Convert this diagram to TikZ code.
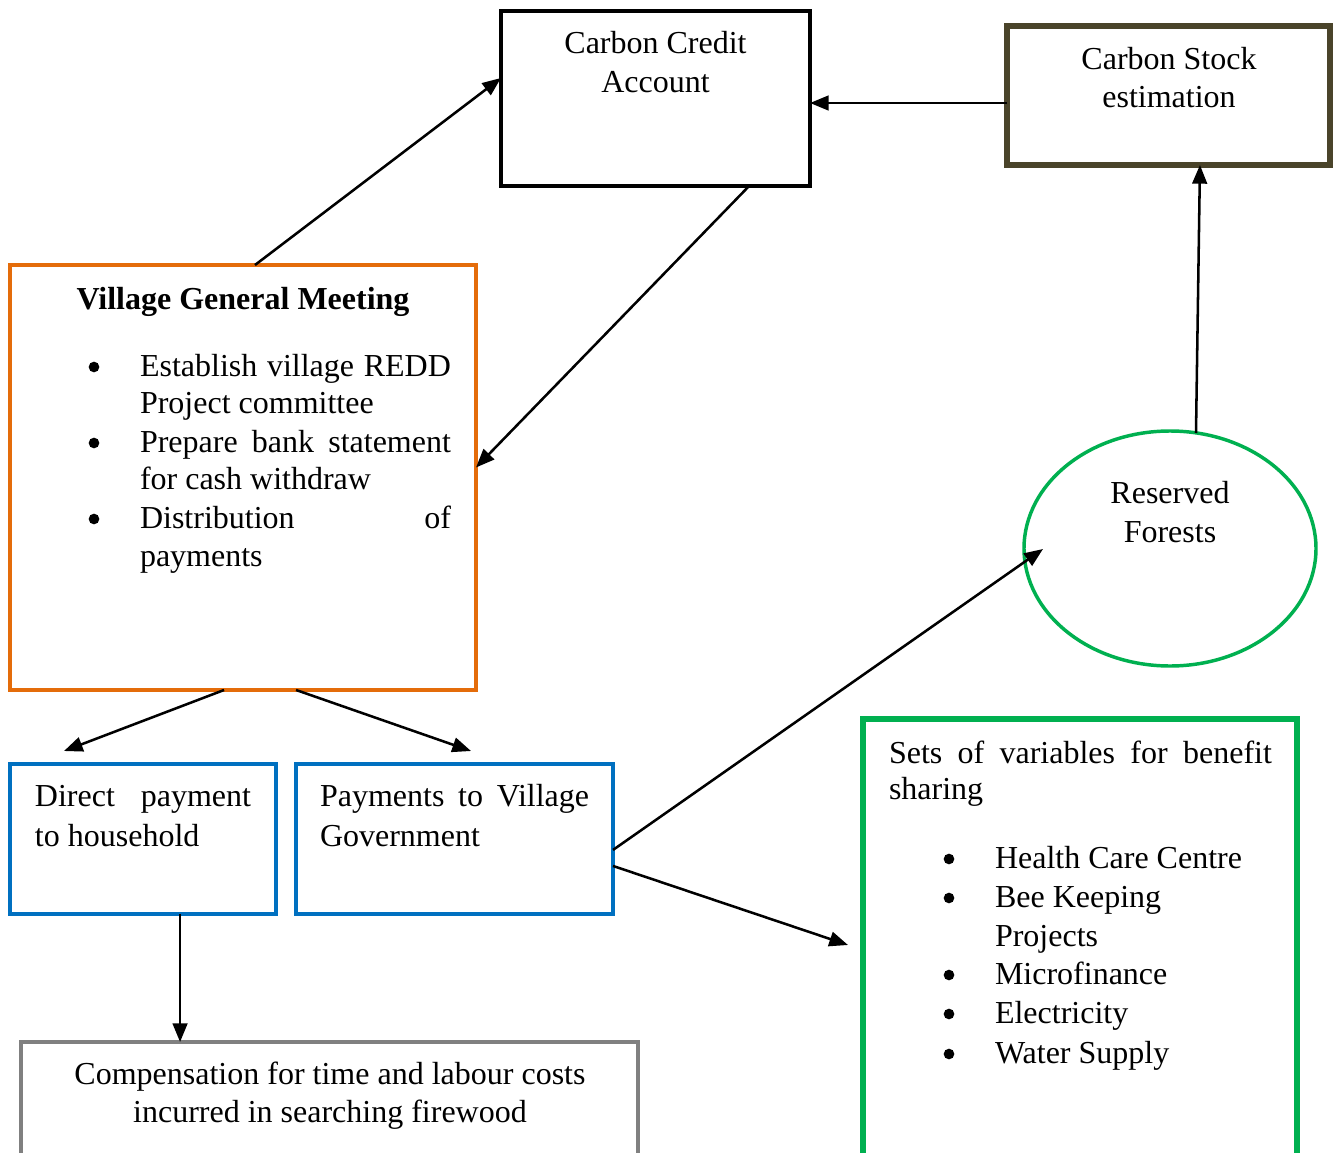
\documentclass[tikz,border=0pt]{standalone}
\usepackage{fontspec}
\setmainfont{Liberation Serif}
\usetikzlibrary{arrows.meta,shapes.geometric,fit}
\definecolor{vgmorange}{RGB}{228,108,10}
\definecolor{payblue}{RGB}{0,112,192}
\definecolor{bgreen}{RGB}{0,176,80}
\definecolor{olive}{RGB}{74,68,42}
\definecolor{cgray}{RGB}{128,128,128}
\begin{document}
\begin{tikzpicture}[x=0.375pt,y=-0.375pt,
  box/.style={draw, inner sep=0pt, outer sep=0pt},
  conn/.style={draw=black, line width=0.95pt, -{Triangle[length=7pt,width=5.5pt]}},
  txt/.style={inner sep=0pt, outer sep=0pt, font=\fontsize{12}{14.4}\selectfont},
  lt/.style={txt, anchor=base west},
  ct/.style={txt, anchor=base},
  bul/.style={circle, fill=black, inner sep=0pt, outer sep=0pt, minimum size=4pt},
]
\clip (0,0) rectangle (1333,1153);
\fill[white] (0,0) rectangle (1333,1153);

% boxes
\node[box, line width=1.5pt, fit={(501,11) (810,186)}] (cca) {};
\node[box, draw=olive, line width=1.9pt, fit={(1007,26) (1330,165)}] (csk) {};
\node[box, draw=vgmorange, line width=1.4pt, fit={(10,265) (476,690)}] (vgm) {};
\node[box, draw=payblue, line width=1.4pt, fit={(10,764) (276,914)}] (dph) {};
\node[box, draw=payblue, line width=1.4pt, fit={(296,764) (613,914)}] (pvg) {};
\node[box, draw=cgray, line width=1.2pt, fit={(21,1042) (638,1200)}] (comp) {};
\node[box, draw=bgreen, line width=1.9pt, fit={(863,719) (1297,1200)}] (sets) {};
\node[ellipse, draw=bgreen, line width=1.3pt, inner sep=0pt, outer sep=0pt,
      minimum width=292*0.375pt, minimum height=235*0.375pt] (rf) at (1170,548.5) {};

% texts
\node[ct] (t1) at (655.5,53) {Carbon Credit};
\node[ct] (t2) at (655.5,92) {Account};
\node[ct] (t3) at (1169,69) {Carbon Stock};
\node[ct] (t4) at (1169,107) {estimation};

\node[ct, font=\fontsize{12}{14.4}\selectfont\bfseries] (t5) at (243,309) {Village General Meeting};
\node[bul] (b1) at (94,367) {};
\node[bul] (b2) at (94,443) {};
\node[bul] (b3) at (94,519) {};
\node[lt] (t6) at (140,376) {\makebox[116.6pt][s]{Establish village REDD}};
\node[lt] (t7) at (140,413) {Project committee};
\node[lt] (t8) at (140,452) {\makebox[116.6pt][s]{Prepare bank statement}};
\node[lt] (t9) at (140,489) {for cash withdraw};
\node[lt] (t10) at (140,528) {\makebox[116.6pt][s]{Distribution of}};
\node[lt] (t11) at (140,566) {payments};

\node[lt] (t12) at (35,806) {\makebox[81pt][s]{Direct payment}};
\node[lt] (t13) at (35,846) {to household};
\node[lt] (t14) at (320,806) {\makebox[100.9pt][s]{Payments to Village}};
\node[lt] (t15) at (320,846) {Government};

\node[ct] (t16) at (330,1084) {Compensation for time and labour costs};
\node[ct] (t17) at (330,1122) {incurred in searching firewood};

\node[ct] (t18) at (1170,503) {Reserved};
\node[ct] (t19) at (1170,542) {Forests};

\node[lt] (t20) at (889,763) {\makebox[143.6pt][s]{Sets of variables for benefit}};
\node[lt] (t21) at (889,799) {sharing};
\node[bul] (b4) at (949,859) {};
\node[bul] (b5) at (949,898) {};
\node[bul] (b6) at (949,975) {};
\node[bul] (b7) at (949,1014) {};
\node[bul] (b8) at (949,1054) {};
\node[lt] (t22) at (995,868) {Health Care Centre};
\node[lt] (t23) at (995,907) {Bee Keeping};
\node[lt] (t24) at (995,946) {Projects};
\node[lt] (t25) at (995,984) {Microfinance};
\node[lt] (t26) at (995,1023) {Electricity};
\node[lt] (t27) at (995,1063) {Water Supply};

% connector coordinates
\coordinate (a3s) at (1007,103);
\coordinate (a4s) at (1196,433);
\coordinate (a5e) at (1043,549);
\coordinate (a6e) at (848,945);
\coordinate (a7e) at (64,751);
\coordinate (a8e) at (471,751);
\coordinate (a9s) at ([xshift=13.9pt]dph.south);

% connectors
\draw[conn] ([xshift=4.5pt]vgm.north) -- ([yshift=7.7pt]cca.west);
\draw[conn] ([xshift=35.1pt]cca.south) -- ([yshift=3.75pt]vgm.east);
\draw[conn] (a3s) -- (cca.east |- a3s);
\draw[conn] (a4s) -- ([xshift=11.8pt]csk.south);
\draw[conn] ([yshift=-4.1pt]pvg.east) -- (a5e);
\draw[conn] ([yshift=-10.1pt]pvg.east) -- (a6e);
\draw[conn] ([xshift=-7.1pt]vgm.south) -- (a7e);
\draw[conn] ([xshift=19.9pt]vgm.south) -- (a8e);
\draw[conn] (a9s) -- (comp.north -| a9s);
\end{tikzpicture}
\end{document}
